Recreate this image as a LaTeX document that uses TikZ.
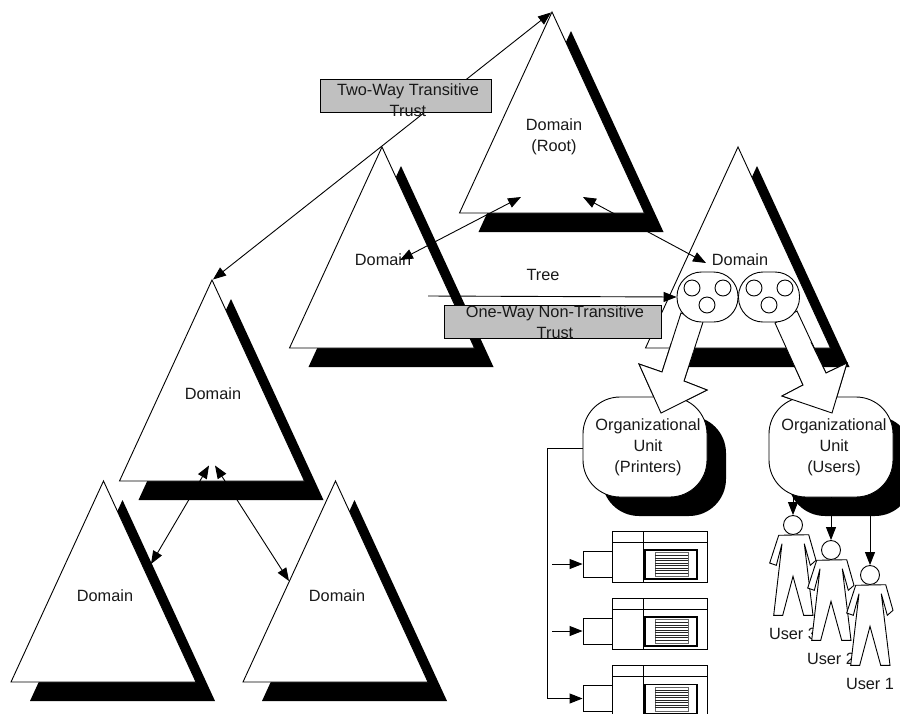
\documentclass[tikz,border=0pt]{standalone}
\usepackage{fontspec}
\setmainfont{Liberation Sans}
\usetikzlibrary{arrows.meta,calc}
\definecolor{boxgrey}{HTML}{C0C0C0}
\tikzset{
  line/.style={draw=black,line width=0.9pt},
  conn/.style={line,-{Triangle[length=13pt,width=10pt]}},
  biconn/.style={line,{Triangle[length=13pt,width=10pt]}-{Triangle[length=13pt,width=10pt]}},
  lbl/.style={font=\fontsize{16.3}{21}\selectfont,align=center,inner sep=0pt,text=black!90},
  greybox/.style={line,fill=boxgrey,inner sep=0pt},
  rect/.style={line,fill=white,inner sep=0pt},
  blob/.style={line,fill=white,rounded corners=24.5pt,minimum width=61pt,minimum height=50pt,inner sep=0pt},
  dot/.style={line,fill=white,circle,minimum size=16pt,inner sep=0pt},
  orgunit/.style={line,fill=white,rounded corners=37pt,minimum width=124pt,minimum height=100pt,inner sep=0pt},
  orgshadow/.style={fill=black,rounded corners=37pt,minimum width=124pt,minimum height=100pt,inner sep=0pt},
  blockarrow/.style={line,fill=white,line join=miter},
  head/.style={line,fill=white,circle,minimum size=19pt,inner sep=0pt},
}
\newcommand\domaintri[3]{% name, apex x, apex y
  \coordinate (#1) at (#2,#3);
  \fill[black] ($(#1)+(19,19)$) -- ($(#1)+(111.5,220)$) -- ($(#1)+(-73.5,220)$) -- cycle;
  \draw[line,fill=white,line join=miter] (#1) -- ($(#1)+(92.5,201)$) -- ($(#1)+(-92.5,201)$) -- cycle;
}
\newcommand\printer[2]{% name, y of top
  \begin{scope}[shift={(0,#2)}]
    \node[rect,minimum width=95pt,minimum height=51pt] (#1main) at (659.5,25.5) {};
    \draw[line] (612,11) -- (707,11);
    \draw[line] (643,0) -- (643,51);
    \node[rect,minimum width=29pt,minimum height=26pt] (#1) at (597.5,33) {};
    \node[rect,line width=1.2pt,minimum width=52pt,minimum height=29pt] (#1tray) at (671,33.5) {};
    \node[draw=black!60,line width=1pt,fill=white,minimum width=33pt,minimum height=24pt,inner sep=0pt] (#1paper) at (671.5,33.5) {};
    \foreach \yy in {24.5,27,29.5,32,34.5,37,39.5,42}{\draw[black!85,line width=0.7pt] (655,\yy) -- (688,\yy);}
  \end{scope}
}
\newcommand\person[2]{% name, position
  \begin{scope}[shift={#2}]
    \draw[line,fill=white,line join=miter] (-14.3,10.3) -- (-23.3,38) -- (-16.7,40.3) -- (-11,18.7) -- (-19.3,90.3) -- (-10.3,90.3) -- (0,51.3) -- (10.7,90.3) -- (20,90.3) -- (11.3,18.7) -- (17.3,40.3) -- (23,35.3) -- (15.7,9.7) -- cycle;
    \node[head] (#1) at (0,0) {};
  \end{scope}
}
\begin{document}
\begin{tikzpicture}[x=1pt,y=-1pt]
\useasboundingbox (0,0) rectangle (900,713);
\clip (0,0) rectangle (900,713);
% triangles
\domaintri{root}{552}{12}
\domaintri{mid}{382}{147}
\domaintri{rgt}{738}{147}
\domaintri{lft}{212}{280}
\domaintri{ll}{103.5}{481}
\domaintri{lr}{335.5}{481}
% labels of domains
\node[lbl] (troot) at (554,136.5) {Domain\\(Root)};
\node[lbl] (tmid) at (383,260) {Domain};
\node[lbl] (trgt) at (740,260) {Domain};
\node[lbl] (tlft) at (213,394) {Domain};
\node[lbl] (tll) at (105,596) {Domain};
\node[lbl] (tlr) at (337,596) {Domain};
\node[lbl] (ttree) at (543,275) {Tree};
% trust connectors
\coordinate (rootA) at (551,12.5);
\coordinate (lftA) at (213,279.5);
\coordinate (rootL) at (521,197);
\coordinate (midC) at (400,260);
\coordinate (rootR) at (583,197);
\coordinate (rgtC) at (706,263);
\coordinate (lftL) at (209,465.5);
\coordinate (llE) at (151,564);
\coordinate (lftR) at (215,465.5);
\coordinate (lrE) at (289,581);
\coordinate (treeS) at (428,296);
\draw[biconn] (rootA) -- (lftA);
\draw[biconn] (rootL) -- (midC);
\draw[biconn] (rootR) -- (rgtC);
\draw[biconn] (lftL) -- (llE);
\draw[biconn] (lftR) -- (lrE);
% grey boxes
\node[greybox,minimum width=171pt,minimum height=33pt] (two) at (405.5,95.5) {};
\node[greybox,minimum width=217pt,minimum height=33pt] (one) at (552.5,321.5) {};
\node[lbl] (ttwo) at (408,100.5) {Two-Way Transitive\\Trust};
\node[lbl] (tone) at (555,322.5) {One-Way Non-Transitive\\Trust};
% block arrows, tails under the blobs
\draw[blockarrow] (681,313) -- (703,322) -- (684,381) -- (707,390) -- (661,413) -- (639,364) -- (662,372) -- cycle;
\draw[blockarrow] (775,323) -- (803,385) -- (782,396) -- (832,413) -- (847,363) -- (826,373) -- (797,311) -- cycle;
% blobs
\node[blob] (bl1) at (707.5,297) {};
\node[blob] (bl2) at (769,297) {};
\node[dot] (d1) at (692,288) {};
\node[dot] (d2) at (723,288) {};
\node[dot] (d3) at (707,305) {};
\node[dot] (d4) at (754,288) {};
\node[dot] (d5) at (785,288) {};
\node[dot] (d6) at (769,305) {};
\draw[conn] (treeS) -- (bl1.west);
% org units
\node[orgshadow] (ouPs) at (664,466) {};
\node[orgshadow] (ouUs) at (850,466) {};
\node[orgunit] (ouP) at (645,447) {};
\node[orgunit] (ouU) at (831,447) {};
\node[lbl] (tP) at (648,447) {Organizational\\Unit\\(Printers)};
\node[lbl] (tU) at (834,447) {Organizational\\Unit\\(Users)};
% arrow heads lie over the org units
\draw[blockarrow] (693.5,351.5) -- (684,381) -- (707,390) -- (661,413) -- (639,364) -- (662,372) -- (671.5,342.5);
\draw[blockarrow] (789,354) -- (803,385) -- (782,396) -- (832,413) -- (847,363) -- (826,373) -- (811,342);
% printers
\printer{p1}{531}
\printer{p2}{598}
\printer{p3}{665.5}
\coordinate (trunk) at (547,448);
\coordinate (s1) at (552,564);
\coordinate (s2) at (552,631);
\draw[conn] (ouP.west |- trunk) -- (trunk) |- (p3.west);
\draw[conn] (s1) -- (p1.west);
\draw[conn] (s2) -- (p2.west);
% users
\person{u3}{(793,525)}
\node[lbl] (t3) at (793,634) {User 3};
\person{u2}{(831,550)}
\node[lbl] (t2) at (831,659) {User 2};
\person{u1}{(870,575)}
\node[lbl] (t1) at (870,684) {User 1};
\draw[conn] (u3 |- ouU.south) -- (u3.north);
\draw[conn] (u2 |- ouU.south) -- (u2.north);
\draw[conn] (u1 |- ouU.south) -- (u1.north);
\end{tikzpicture}
\end{document}
